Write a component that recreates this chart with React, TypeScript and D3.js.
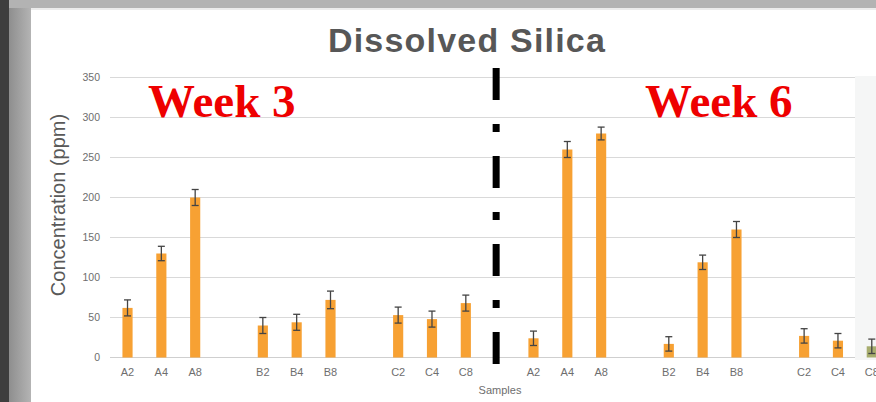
import React from "react";
import * as d3 from "d3";

// Dissolved silica concentration (ppm) per sample, two sampling weeks
const samples = ["A2", "A4", "A8", "B2", "B4", "B8", "C2", "C4", "C8"];
const groupSize = 3;
const week3Values = [62, 130, 200, 40, 44, 72, 53, 48, 68];
const week3Errors = [10, 9, 10, 10, 10, 11, 10, 10, 10];
const week6Values = [24, 260, 280, 17, 119, 160, 27, 21, 14];
const week6Errors = [9, 10, 8, 9, 9, 10, 9, 9, 9];
const yTicks = [0, 50, 100, 150, 200, 250, 300, 350];
const weekLabels = ["Week 3", "Week 6"];

const W = 876;
const H = 402;

type Slot = { key: string; label: string; value?: number; err?: number; week?: number };

// Build slot list: groups of three samples separated by empty slots
function buildSlots(): Slot[] {
  const slots: Slot[] = [];
  const weeks = [
    { v: week3Values, e: week3Errors },
    { v: week6Values, e: week6Errors },
  ];
  weeks.forEach((wk, wi) => {
    samples.forEach((s, i) => {
      if (i > 0 && i % groupSize === 0) slots.push({ key: `gap-${wi}-${i}`, label: "" });
      slots.push({ key: `w${wi}-${s}`, label: s, value: wk.v[i], err: wk.e[i], week: wi });
    });
    if (wi === 0) slots.push({ key: "divider", label: "" });
  });
  return slots;
}

export default function App() {
  const slots = buildSlots();
  const x = d3
    .scaleBand<string>()
    .domain(slots.map((d) => d.key))
    .range([110.6, 888.7])
    .paddingInner(0.7)
    .paddingOuter(0.35);
  const y = d3.scaleLinear().domain([0, 350]).range([357.5, 77.5]);

  const gridLeft = 110;
  const gridRight = 855;
  const bars = slots.filter((d) => d.value !== undefined);
  const divX = (x("divider") as number) + x.bandwidth() / 2 - 3.5;
  const sans = "'Liberation Sans', Arial, sans-serif";

  return (
    <svg
      width={W}
      height={H}
      style={{ position: "fixed", left: 0, top: 0, display: "block" }}
    >
      <defs>
        <linearGradient id="frameGrad" x1="0" x2="1" y1="0" y2="0">
          <stop offset="0" stopColor="#8e8e8e" />
          <stop offset="1" stopColor="#b4b4b4" />
        </linearGradient>
      </defs>
      {/* frame around the slide */}
      <rect x={0} y={0} width={W} height={H} fill="#b3b3b3" />
      <rect x={0} y={0} width={9} height={H} fill="#3e3e3e" />
      <rect x={9} y={8} width={22} height={H} fill="url(#frameGrad)" />
      <rect x={31} y={8} width={W - 31} height={H} fill="#ffffff" />
      <rect x={31} y={8} width={W - 31} height={2} fill="#ececec" />

      {/* title */}
      <text
        x={467}
        y={52}
        textAnchor="middle"
        fontFamily={sans}
        fontWeight="bold"
        fontSize={34}
        letterSpacing={1.2}
        fill="#575757"
      >
        Dissolved Silica
      </text>

      {/* grid */}
      {yTicks.map((t) => (
        <line
          key={t}
          x1={gridLeft}
          x2={gridRight}
          y1={y(t)}
          y2={y(t)}
          stroke={t === 0 ? "#cfcfcf" : "#d9d9d9"}
          strokeWidth={1.2}
        />
      ))}
      {yTicks.map((t) => (
        <text
          key={`yl-${t}`}
          x={100}
          y={y(t)}
          dy="0.35em"
          textAnchor="end"
          fontFamily={sans}
          fontSize={10.5}
          fill="#6e6e6e"
        >
          {t}
        </text>
      ))}
      <text
        transform={`translate(65,${205}) rotate(-90)`}
        textAnchor="middle"
        fontFamily={sans}
        fontSize={20}
        fill="#595959"
      >
        Concentration (ppm)
      </text>

      {/* panel edge on the right side */}
      <rect x={gridRight} y={76} width={W - gridRight} height={284} fill="#f5f6f6" />

      {/* bars */}
      {bars.map((d) => {
        const bx = x(d.key) as number;
        const cx = bx + x.bandwidth() / 2;
        const faded = cx > gridRight;
        return (
          <g key={d.key}>
            <rect
              x={bx}
              y={y(d.value!)}
              width={x.bandwidth()}
              height={y(0) - y(d.value!)}
              fill={faded ? "#a7ad6e" : "#f7a133"}
            />
            <line
              x1={cx}
              x2={cx}
              y1={y(d.value! + d.err!)}
              y2={y(Math.max(0, d.value! - d.err!))}
              stroke="#444"
              strokeWidth={1.3}
            />
            <line
              x1={cx - 3.5}
              x2={cx + 3.5}
              y1={y(d.value! + d.err!)}
              y2={y(d.value! + d.err!)}
              stroke="#444"
              strokeWidth={1.3}
            />
            <line
              x1={cx - 3.5}
              x2={cx + 3.5}
              y1={y(Math.max(0, d.value! - d.err!))}
              y2={y(Math.max(0, d.value! - d.err!))}
              stroke="#444"
              strokeWidth={1.3}
            />
          </g>
        );
      })}

      {/* x labels */}
      {bars.map((d) => (
        <text
          key={`xl-${d.key}`}
          x={(x(d.key) as number) + x.bandwidth() / 2}
          y={376}
          textAnchor="middle"
          fontFamily={sans}
          fontSize={11}
          fill="#6e6e6e"
        >
          {d.label}
        </text>
      ))}
      <text x={500} y={394} textAnchor="middle" fontFamily={sans} fontSize={11} fill="#6e6e6e">
        Samples
      </text>

      {/* week divider */}
      <line
        x1={divX}
        x2={divX}
        y1={68}
        y2={364}
        stroke="#000"
        strokeWidth={7}
        strokeDasharray="32 24 8 24"
      />

      {/* week labels */}
      {weekLabels.map((w, i) => (
        <text
          key={w}
          x={i === 0 ? 148 : 645}
          y={117}
          fontFamily="'Liberation Serif', 'Times New Roman', serif"
          fontWeight="bold"
          fontSize={47}
          fill="#ee0000"
        >
          {w}
        </text>
      ))}
    </svg>
  );
}
